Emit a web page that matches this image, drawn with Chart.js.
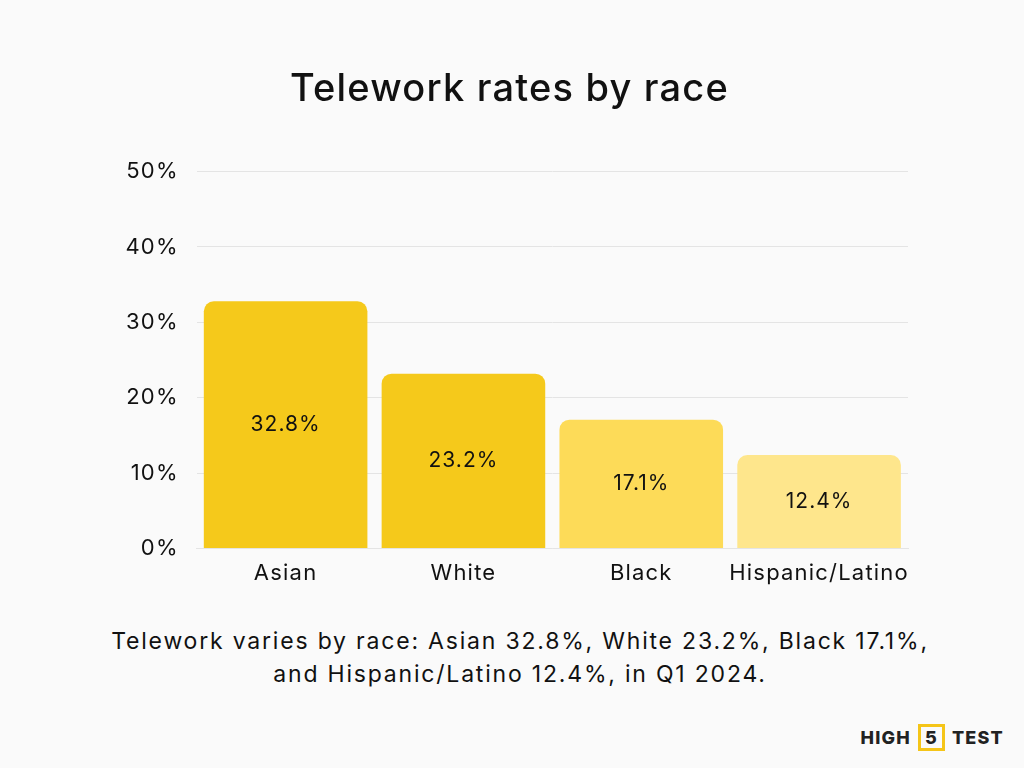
<!DOCTYPE html>
<html>
<head>
<meta charset="utf-8">
<script src="https://cdn.jsdelivr.net/npm/chart.js@4"></script>
<style>
  body { margin: 0; background: #fafafa; font-family: Inter, "Noto Sans", sans-serif; }
  #wrap { position: relative; width: 1024px; height: 768px; background: #fafafa; }
  #chartBox { position: absolute; left: 0; top: 0; width: 1024px; height: 600px; }
  #caption { position: absolute; left: 8px; top: 625px; width: 1024px; text-align: center;
    font-size: 23px; line-height: 33px; color: #111; letter-spacing: 1.8px; }
  #logo { position: absolute; right: 20px; top: 724px; font-size: 18px; font-weight: 800;
    color: #222; letter-spacing: 1.2px; display: flex; align-items: center; }
  #logo .five { border: 3px solid #f5c518; padding: 0 4px; margin: 0 7px; line-height: 21px; }
</style>
</head>
<body>
<div id="wrap">
  <div id="chartBox"><canvas id="teleworkChart"></canvas></div>
  <div id="caption">Telework varies by race: Asian 32.8%, White 23.2%, Black 17.1%,<br>and Hispanic/Latino 12.4%, in Q1 2024.</div>
  <div id="logo">HIGH<span class="five">5</span>TEST</div>
</div>
<script>
const categories = ['Asian', 'White', 'Black', 'Hispanic/Latino'];
const rates = [32.8, 23.2, 17.1, 12.4];
const barColors = ['#f5c91b', '#f5c91b', '#fddb58', '#fee68c'];
const yTicks = [0, 10, 20, 30, 40, 50];

const FONT = 'Inter, "Noto Sans", sans-serif';

// wider letters, closer to the original typeface
const spacing = {
    id: 'spacing',
    beforeDraw(chart) { chart.ctx.letterSpacing = '1.2px'; }
};

// draws the value in the middle of each bar
const valueLabels = {
    id: 'valueLabels',
    afterDatasetsDraw(chart) {
        const ctx = chart.ctx;
        const meta = chart.getDatasetMeta(0);
        ctx.save();
        ctx.letterSpacing = '1px';
        ctx.font = '21px ' + FONT;
        ctx.fillStyle = '#111';
        ctx.textAlign = 'center';
        ctx.textBaseline = 'middle';
        meta.data.forEach((bar, i) => {
            const mid = (bar.y + bar.base) / 2;
            ctx.fillText(rates[i].toFixed(1) + '%', bar.x, mid);
        });
        ctx.restore();
    }
};

document.addEventListener('DOMContentLoaded', () => {
    const ctx = document.getElementById('teleworkChart');
    if(!ctx) return;

    new Chart(ctx, {
        type: 'bar',
        data: {
            labels: categories,
            datasets: [{
                data: rates,
                backgroundColor: barColors,
                borderRadius: { topLeft: 10, topRight: 10 },
                borderSkipped: 'bottom',
                barPercentage: 0.92,
                categoryPercentage: 1.0
            }]
        },
        options: {
            responsive: true,
            maintainAspectRatio: false,
            animation: false,
            layout: { padding: { left: 111, right: 116, top: 0, bottom: 9 } },
            plugins: {
                legend: { display: false },
                tooltip: { enabled: false },
                title: {
                    display: true,
                    text: 'Telework rates by race',
                    color: '#111',
                    font: { size: 38, weight: '500', family: FONT },
                    padding: { top: 67, bottom: 59 }
                }
            },
            scales: {
                x: {
                    grid: { display: false },
                    border: { display: true, color: '#e4e4e4' },
                    ticks: { color: '#111', font: { size: 22, family: FONT }, padding: 4 }
                },
                y: {
                    min: 0,
                    max: 50,
                    afterBuildTicks: axis => { axis.ticks = yTicks.map(v => ({ value: v })); },
                    grid: { color: '#e4e4e4', drawTicks: false },
                    border: { display: false },
                    ticks: {
                        color: '#111',
                        padding: 18,
                        font: { size: 22, family: FONT },
                        callback: v => v + '%'
                    }
                }
            }
        },
        plugins: [spacing, valueLabels]
    });
});
</script>
</body>
</html>
